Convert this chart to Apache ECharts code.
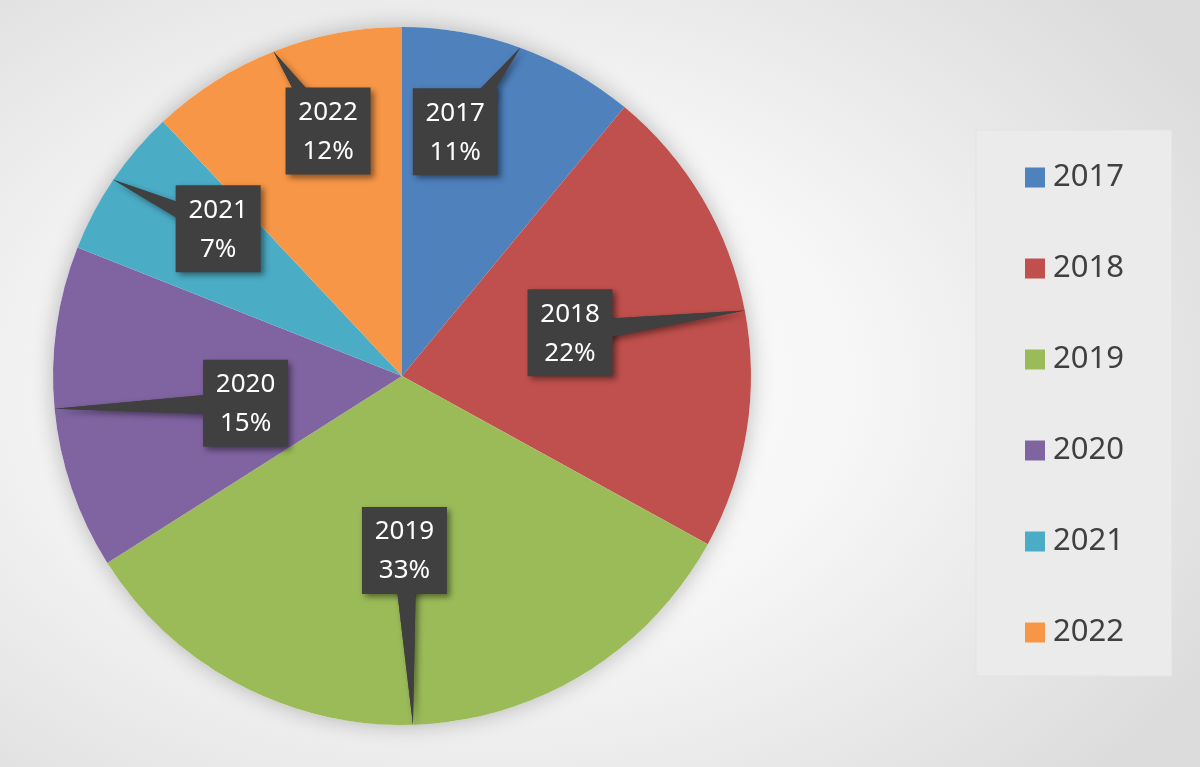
<!DOCTYPE html>
<html>
<head>
<meta charset="utf-8">
<script src="https://cdn.jsdelivr.net/npm/echarts@6/dist/echarts.min.js"></script>
<style>
html,body{margin:0;padding:0;}
#c{width:1200px;height:767px;background:radial-gradient(ellipse 70% 75% at 40% 50%, #ffffff 0%, #f6f6f6 45%, #dcdcdc 100%);}
</style>
</head>
<body>
<div id="c"></div>
<script>
const years = ['2017', '2018', '2019', '2020', '2021', '2022'];
const values = [11, 22, 33, 15, 7, 12];
const colors = ['#4f81bd', '#c0504d', '#9bbb59', '#8064a2', '#4bacc6', '#f79646'];

// callout box placement (fraction of radius, angular turn in degrees)
const labelDist = [0.716, 0.497, 0.5, 0.455, 0.675, 0.733];
const labelTurn = [-7.5, -3.6, 1, -4.5, 4.5, 4.8];

const CX = 402, CY = 376, R = 349;
const BOX_W = 85, BOX_H = 87;
const total = values.reduce((a, b) => a + b, 0);

function midAngle(i) {
  let s = 0;
  for (let k = 0; k < i; k++) s += values[k];
  return (s + values[i] / 2) / total * 2 * Math.PI;
}

const chart = echarts.init(document.getElementById('c'));
chart.setOption({
  backgroundColor: 'transparent',
  animation: false,
  legend: {
    orient: 'vertical',
    left: 976,
    top: 130,
    padding: [32, 48, 28, 49],
    backgroundColor: '#ebebeb',
    borderColor: '#e3e3e3',
    borderWidth: 1,
    itemWidth: 20,
    itemHeight: 20,
    itemGap: 60,
    icon: 'rect',
    data: years,
    textStyle: { fontFamily: 'Noto Sans', fontSize: 31, lineHeight: 30, color: '#404040', padding: [0, 0, 0, 3] }
  },
  series: [
    {
      type: 'pie',
      center: [CX, CY],
      radius: R,
      startAngle: 90,
      clockwise: true,
      z: 2,
      data: years.map((y, i) => ({ name: y, value: values[i], itemStyle: { color: colors[i] } })),
      label: { show: false },
      labelLine: { show: false }
    },
    {
      type: 'pie',
      silent: true,
      center: [CX, CY],
      radius: R,
      z: 1,
      label: { show: false },
      labelLine: { show: false },
      itemStyle: { color: '#ffffff', shadowBlur: 22, shadowColor: 'rgba(0,0,0,0.25)' },
      data: [{ value: 1, name: '' }],
      tooltip: { show: false }
    },
    {
      type: 'custom',
      coordinateSystem: 'none',
      silent: true,
      z: 3,
      data: values,
      renderItem: function (params, api) {
        const i = params.dataIndex;
        const m = midAngle(i);
        const tip = [CX + R * Math.sin(m), CY - R * Math.cos(m)];
        const a = m + labelTurn[i] * Math.PI / 180;
        const f = labelDist[i] * R;
        const c = [CX + f * Math.sin(a), CY - f * Math.cos(a)];
        const dx = tip[0] - c[0], dy = tip[1] - c[1];
        const len = Math.sqrt(dx * dx + dy * dy);
        const nx = -dy / len * 12, ny = dx / len * 12;
        const pct = Math.round(api.value(0) / total * 100);
        const shadow = { shadowBlur: 6, shadowOffsetX: 3, shadowOffsetY: 3, shadowColor: 'rgba(0,0,0,0.45)' };
        return {
          type: 'group',
          children: [
            {
              type: 'polygon',
              shape: { points: [[c[0] + nx, c[1] + ny], tip, [c[0] - nx, c[1] - ny]] },
              style: Object.assign({ fill: '#404040' }, shadow)
            },
            {
              type: 'rect',
              shape: { x: c[0] - BOX_W / 2, y: c[1] - BOX_H / 2, width: BOX_W, height: BOX_H },
              style: Object.assign({ fill: '#404040' }, shadow)
            },
            {
              type: 'polygon',
              shape: { points: [[c[0] + nx, c[1] + ny], tip, [c[0] - nx, c[1] - ny]] },
              style: { fill: '#404040' }
            },
            {
              type: 'text',
              style: {
                x: c[0], y: c[1] + 1,
                text: years[i] + '\n' + pct + '%',
                fill: '#ffffff',
                fontFamily: 'Noto Sans',
                fontSize: 26,
                lineHeight: 39,
                align: 'center',
                verticalAlign: 'middle'
              }
            }
          ]
        };
      }
    }
  ]
});
</script>
</body>
</html>
